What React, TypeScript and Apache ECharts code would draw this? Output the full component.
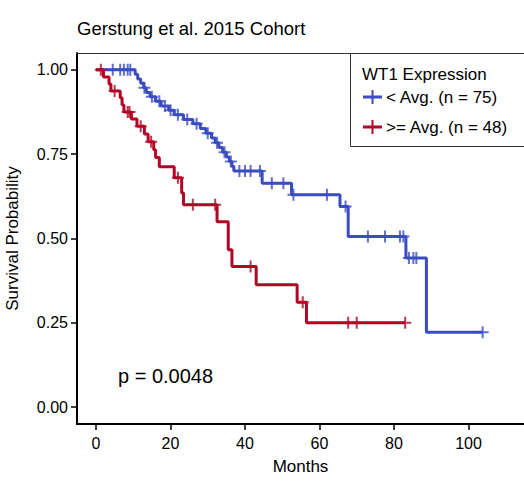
import React, { useEffect, useRef } from "react";
import * as echarts from "echarts";

const TITLE = "Gerstung et al. 2015 Cohort";
const LEGEND_TITLE = "WT1 Expression";
const LOW_NAME = "< Avg. (n = 75)";
const HIGH_NAME = ">= Avg. (n = 48)";
const P_TEXT = "p = 0.0048";
const X_TICKS = [0, 20, 40, 60, 80, 100];
const Y_TICKS = [0, 0.25, 0.5, 0.75, 1];

// Kaplan-Meier steps: [month, survival after event]
const lowSteps: [number, number][] = [
  [0, 1], [10.5, 0.987], [11.2, 0.973], [12, 0.96], [12.8, 0.947], [13.5, 0.933],
  [14.5, 0.92], [16, 0.907], [17.5, 0.893], [19.5, 0.88], [21, 0.867], [23.5, 0.853],
  [26, 0.84], [28, 0.826], [29.5, 0.812], [31, 0.798], [32, 0.784], [33, 0.77],
  [34, 0.756], [35, 0.742], [35.8, 0.728], [36.5, 0.714], [37, 0.7], [44.6, 0.664],
  [52.5, 0.63], [65.5, 0.595], [67.7, 0.506], [83.2, 0.442], [88.7, 0.222], [103.8, 0.222],
];
const lowCensor: [number, number][] = [
  [4.5, 1], [6.5, 1], [7.5, 1], [8.5, 1], [9.2, 1],
  [13, 0.947], [15, 0.92], [17, 0.907], [18.5, 0.893], [20, 0.88], [22, 0.867],
  [24.5, 0.853], [27, 0.84], [30, 0.812], [32.5, 0.784], [34.5, 0.756], [36.2, 0.728],
  [38.5, 0.7], [40, 0.7], [41.5, 0.7], [44, 0.7],
  [47.2, 0.664], [50.3, 0.664], [53, 0.63], [62, 0.63], [67, 0.595],
  [73, 0.506], [77.6, 0.506], [81.6, 0.506], [82.5, 0.506],
  [84, 0.442], [85.2, 0.442], [86, 0.442], [103.8, 0.222],
];

const highSteps: [number, number][] = [
  [0, 1], [2, 0.979], [3.5, 0.958], [4, 0.937], [6.5, 0.917], [7, 0.896], [7.5, 0.875],
  [9.5, 0.854], [11, 0.833], [13, 0.81], [14, 0.787], [15.5, 0.763], [16, 0.74],
  [17, 0.713], [21, 0.68], [23, 0.635], [23.5, 0.6], [32.5, 0.55], [35.5, 0.467],
  [36.5, 0.417], [43, 0.363], [54, 0.311], [56.5, 0.25], [83, 0.25],
];
const highCensor: [number, number][] = [
  [1.3, 1], [5, 0.937], [8.5, 0.875], [9, 0.875], [12, 0.833], [14.8, 0.787],
  [22, 0.68], [26, 0.6], [32, 0.6], [41.5, 0.417], [55.5, 0.311],
  [67.7, 0.25], [70, 0.25], [83, 0.25],
];

const BLUE = "#3B4CC0";
const RED = "#B40426";
const FONT = "Liberation Sans, Arial, Helvetica, sans-serif";
const PLUS = "path://M5,0H7V5H12V7H7V12H5V7H0V5H5Z";

export default function App() {
  const ref = useRef<HTMLDivElement>(null);
  useEffect(() => {
    if (!ref.current) return;
    const chart = echarts.init(ref.current, undefined, { renderer: "svg" });
    const plusLegend = (x: number, y: number, color: string) => [
      { type: "line", shape: { x1: x, y1: y, x2: x + 19, y2: y }, style: { stroke: color, lineWidth: 3 }, z: 11 },
      { type: "line", shape: { x1: x + 9.5, y1: y - 7, x2: x + 9.5, y2: y + 7 }, style: { stroke: color, lineWidth: 2 }, z: 11 },
    ];
    chart.setOption({
      animation: false,
      backgroundColor: "#fff",
      title: {
        text: TITLE,
        left: 77,
        top: 19,
        padding: 0,
        textStyle: { fontFamily: FONT, fontSize: 18.5, fontWeight: "normal", color: "#000" },
      },
      grid: {
        left: 77,
        right: 0,
        top: 53,
        bottom: 63,
        show: false,
        containLabel: false,
        outerBoundsMode: "none",
      },
      xAxis: {
        type: "value",
        min: -5.1,
        max: 114.9,
        name: "Months",
        nameLocation: "middle",
        nameGap: 34,
        nameTextStyle: { fontFamily: FONT, fontSize: 17, color: "#000" },
        axisLine: { show: true, onZero: false, lineStyle: { color: "#000", width: 2 } },
        axisTick: { show: true, customValues: X_TICKS, length: 6, lineStyle: { color: "#000", width: 1.5 } },
        axisLabel: { customValues: X_TICKS, fontFamily: FONT, fontSize: 16, color: "#000", margin: 11 },
        splitLine: { show: false },
      },
      yAxis: {
        type: "value",
        min: -0.05,
        max: 1.05,
        name: "Survival Probability",
        nameLocation: "middle",
        nameGap: 56,
        nameTextStyle: { fontFamily: FONT, fontSize: 17, color: "#000" },
        axisLine: { show: true, onZero: false, lineStyle: { color: "#000", width: 2 } },
        axisTick: { show: true, customValues: Y_TICKS, length: 6, lineStyle: { color: "#000", width: 1.5 } },
        axisLabel: {
          customValues: Y_TICKS,
          fontFamily: FONT,
          fontSize: 16,
          color: "#000",
          margin: 9,
          formatter: (v: number) => v.toFixed(2),
        },
        splitLine: { show: false },
      },
      series: [
        {
          name: LOW_NAME,
          type: "line",
          step: "end",
          data: lowSteps,
          showSymbol: false,
          lineStyle: { color: BLUE, width: 3 },
          itemStyle: { color: BLUE },
          z: 3,
        },
        {
          name: HIGH_NAME,
          type: "line",
          step: "end",
          data: highSteps,
          showSymbol: false,
          lineStyle: { color: RED, width: 3 },
          itemStyle: { color: RED },
          z: 3,
        },
        {
          name: LOW_NAME + " censored",
          type: "scatter",
          data: lowCensor,
          symbol: PLUS,
          symbolSize: 12,
          itemStyle: { color: BLUE },
          z: 4,
        },
        {
          name: HIGH_NAME + " censored",
          type: "scatter",
          data: highCensor,
          symbol: PLUS,
          symbolSize: 12,
          itemStyle: { color: RED },
          z: 4,
        },
      ],
      graphic: [
        {
          type: "line",
          shape: { x1: 76, y1: 53.5, x2: 524, y2: 53.5 },
          style: { stroke: "#333", lineWidth: 1 },
          z: 9,
        },
        {
          type: "rect",
          shape: { x: 350.5, y: 53.5, width: 180, height: 93 },
          style: { fill: "#fff", stroke: "#333", lineWidth: 1 },
          z: 10,
        },
        {
          type: "text",
          x: 362,
          y: 74,
          style: { text: LEGEND_TITLE, fontFamily: FONT, fontSize: 17, fill: "#000", verticalAlign: "middle" },
          z: 11,
        },
        ...plusLegend(363, 97, BLUE),
        {
          type: "text",
          x: 386,
          y: 97,
          style: { text: LOW_NAME, fontFamily: FONT, fontSize: 17, fill: "#000", verticalAlign: "middle" },
          z: 11,
        },
        ...plusLegend(363, 127, RED),
        {
          type: "text",
          x: 386,
          y: 127,
          style: { text: HIGH_NAME, fontFamily: FONT, fontSize: 17, fill: "#000", verticalAlign: "middle" },
          z: 11,
        },
        {
          type: "text",
          x: 118,
          y: 376,
          style: { text: P_TEXT, fontFamily: FONT, fontSize: 20, fill: "#000", verticalAlign: "middle" },
          z: 11,
        },
      ],
    });
    return () => chart.dispose();
  }, []);
  return <div ref={ref} style={{ width: 524, height: 487, position: "absolute", left: 0, top: 0 }} />;
}
